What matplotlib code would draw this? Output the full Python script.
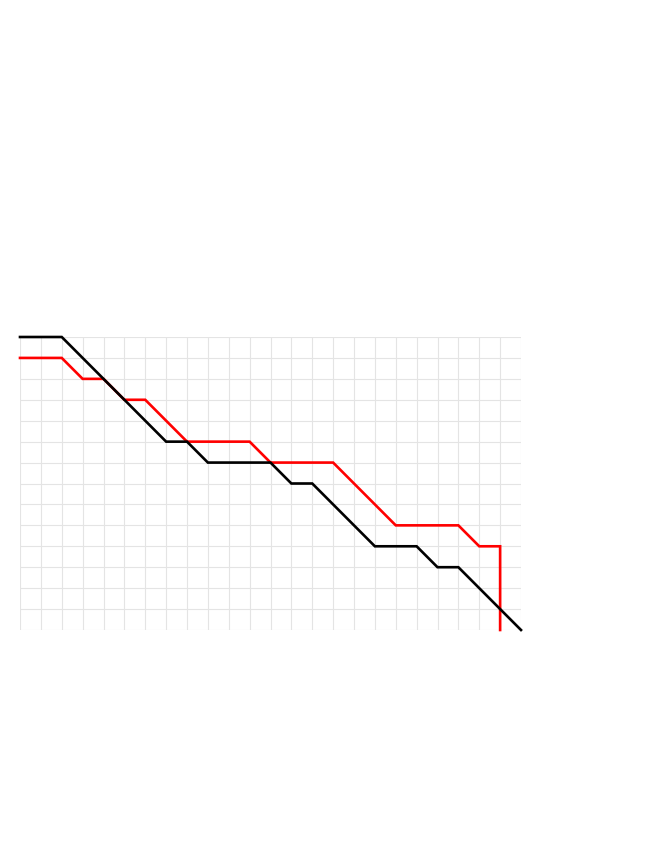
import matplotlib
matplotlib.use('Agg')
import matplotlib.pyplot as plt

# black path (x, y) vertices
black_x = [0, 2, 7, 8, 9, 12, 13, 14, 17, 19, 20, 21, 24]
black_y = [14, 14, 9, 9, 8, 8, 7, 7, 4, 4, 3, 3, 0]
# red path
red_x = [0, 2, 3, 4, 5, 6, 8, 11, 12, 15, 18, 21, 22, 23, 23]
red_y = [13, 13, 12, 12, 11, 11, 9, 9, 8, 8, 5, 5, 4, 4, 0]

fig = plt.figure(figsize=(6.64, 8.6), dpi=100)
ax = fig.add_axes([20/664, (860-630)/860, (521-20)/664, (630-337)/860])
ax.set_xlim(0, 24)
ax.set_ylim(0, 14)
ax.set_xticks(range(25))
ax.set_yticks(range(15))
ax.grid(True, color='#e4e4e4', linewidth=0.8)
ax.tick_params(length=0, labelbottom=False, labelleft=False)
for s in ax.spines.values():
    s.set_visible(False)
ax.set_axisbelow(True)

ax.plot(red_x, red_y, color='red', lw=1.9, clip_on=False, solid_joinstyle='miter')
ax.plot(black_x, black_y, color='black', lw=1.9, clip_on=False, solid_joinstyle='miter')

fig.savefig('out.png', dpi=100)
